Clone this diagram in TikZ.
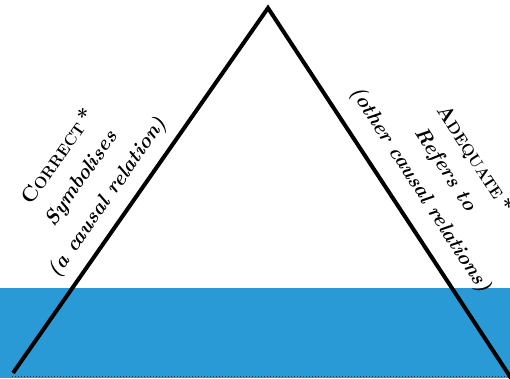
\documentclass[tikz,border=0pt]{standalone}
\usepackage{fontspec}
\definecolor{seablue}{RGB}{42,154,214}
\newcommand{\fakesc}[2]{{\fontsize{21}{24}\selectfont\bfseries #1}{\fontsize{16}{19}\selectfont\bfseries #2}}
\tikzset{
  side/.style={line width=4pt, line join=miter, black},
  lbl/.style={inner sep=0pt, font=\fontsize{20.5}{24}\selectfont\bfseries\itshape},
  head/.style={inner sep=0pt, font=\bfseries},
}
\begin{document}
\begin{tikzpicture}[x=1pt,y=1pt]
\useasboundingbox (0,0) rectangle (510,378);
\fill[seablue] (0,0) rectangle (510,90);
\draw[dotted, line width=1pt, black!80] (12,1.2) -- (510,1.2);
\coordinate (apex) at (268,370);
\coordinate (bl) at (13,5);
\coordinate (br) at (511,0);
\draw[side] (bl) -- (apex) -- (br);
\node[lbl, rotate=55] (lrel) at (108,180) {(a causal relation)};
\node[lbl, rotate=55] (lsym) at (82,199) {Symbolises};
\node[head, rotate=55] (lcor) at (57,222) {\fakesc{C}{ORRECT} {\fontsize{21}{24}\selectfont\bfseries*}};
\node[lbl, rotate=-57] (rrel) at (420,188) {(other causal relations)};
\node[lbl, rotate=-57] (rref) at (445,208) {Refers to};
\node[head, rotate=-57] (rade) at (475,219) {\fakesc{A}{DEQUATE} {\fontsize{21}{24}\selectfont\bfseries*}};
\end{tikzpicture}
\end{document}
